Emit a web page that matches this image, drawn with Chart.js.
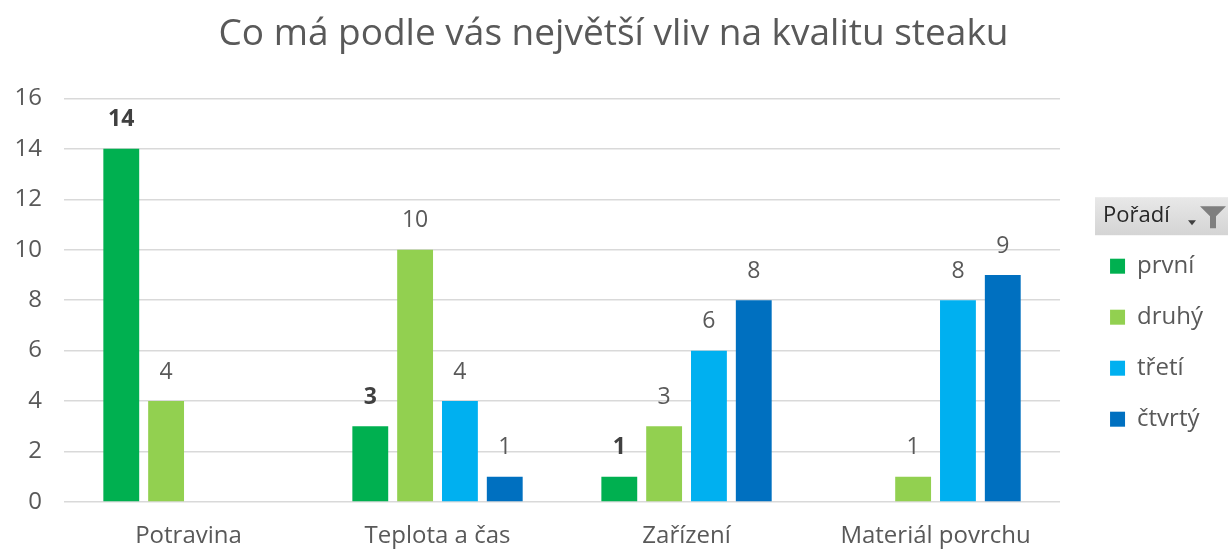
<!DOCTYPE html>
<html>
<head>
<meta charset="utf-8">
<script src="https://cdn.jsdelivr.net/npm/chart.js@4.4.1/dist/chart.umd.min.js"></script>
<style>
html,body{margin:0;padding:0;background:#fff;}
#wrap{position:relative;width:1228px;height:549px;}
canvas{display:block;}
</style>
</head>
<body>
<div id="wrap"><canvas id="c" width="1228" height="549"></canvas></div>
<script>
const categories = ['Potravina', 'Teplota a čas', 'Zařízení', 'Materiál povrchu'];
const seriesNames = ['první', 'druhý', 'třetí', 'čtvrtý'];
const prvni = [14, 3, 1, 0];
const druhy = [4, 10, 3, 1];
const treti = [0, 4, 6, 8];
const ctvrty = [0, 1, 8, 9];
const colors = ['#00B050', '#92D050', '#00B0F0', '#0070C0'];
const yTicks = [0, 2, 4, 6, 8, 10, 12, 14, 16];
const titleText = 'Co má podle vás největší vliv na kvalitu steaku';
const legendTitle = 'Pořadí';

const FONT = '"Open Sans", "Noto Sans", sans-serif';
const TXT = '#595959';

const valueLabels = {
  id: 'valueLabels',
  afterDatasetsDraw(chart) {
    const ctx = chart.ctx;
    ctx.save();
    ctx.textAlign = 'center';
    ctx.textBaseline = 'middle';
    chart.data.datasets.forEach((ds, i) => {
      const meta = chart.getDatasetMeta(i);
      meta.data.forEach((bar, j) => {
        const v = ds.data[j];
        if (!v) return;
        ctx.font = (i === 0 ? 'bold ' : '') + '23px ' + FONT;
        ctx.fillStyle = i === 0 ? '#404040' : TXT;
        ctx.fillText(String(v), bar.x, bar.y - 29);
      });
    });
    ctx.restore();
  }
};

const legendHeader = {
  id: 'legendHeader',
  beforeDraw(chart) {
    const lg = chart.legend;
    if (!lg || !lg.legendHitBoxes || !lg.legendHitBoxes.length) return;
    const first = lg.legendHitBoxes[0];
    const ty = first.top + first.height / 2 - 50;
    const ctx = chart.ctx;
    const h = 38, y0 = ty - h / 2;
    const x0 = 1095;
    ctx.save();
    const g = ctx.createLinearGradient(0, y0, 0, y0 + h);
    g.addColorStop(0, '#e8e8e8');
    g.addColorStop(1, '#d4d4d4');
    ctx.fillStyle = g;
    ctx.fillRect(x0, y0, chart.width - x0, h);
    ctx.fillStyle = '#262626';
    ctx.font = '22px ' + FONT;
    ctx.textAlign = 'left';
    ctx.textBaseline = 'middle';
    ctx.fillText(legendTitle, 1103, ty);
    // filter icon
    const fx = 1200, fy = y0 + 9;
    ctx.fillStyle = '#7f7f7f';
    ctx.beginPath();
    ctx.moveTo(fx, fy); ctx.lineTo(fx + 26, fy); ctx.lineTo(fx + 16, fy + 10);
    ctx.lineTo(fx + 16, fy + 22); ctx.lineTo(fx + 10, fy + 22); ctx.lineTo(fx + 10, fy + 10);
    ctx.closePath(); ctx.fill();
    ctx.fillStyle = '#404040';
    ctx.beginPath();
    ctx.moveTo(fx - 12, fy + 14); ctx.lineTo(fx - 4, fy + 14); ctx.lineTo(fx - 8, fy + 19);
    ctx.closePath(); ctx.fill();
    ctx.restore();
  }
};

new Chart(document.getElementById('c'), {
  type: 'bar',
  data: {
    labels: categories,
    datasets: [prvni, druhy, treti, ctvrty].map((d, i) => ({
      label: seriesNames[i],
      data: d,
      backgroundColor: colors[i],
      borderWidth: 0,
      barPercentage: 0.8,
      categoryPercentage: 0.72
    }))
  },
  options: {
    responsive: false,
    animation: false,
    devicePixelRatio: 1,
    layout: { padding: { left: 14, right: 15, top: 0, bottom: 0 } },
    plugins: {
      tooltip: { enabled: false },
      title: {
        display: true,
        text: titleText,
        color: TXT,
        font: { family: FONT, size: 37, weight: 'normal' },
        padding: { top: 12, bottom: 42 }
      },
      legend: {
        position: 'right',
        align: 'center',
        title: {
          display: true,
          text: legendTitle,
          color: 'rgba(0,0,0,0)',
          font: { family: FONT, size: 22 },
          padding: { top: 98, bottom: 12 }
        },
        labels: {
          boxWidth: 15,
          boxHeight: 15,
          padding: 27,
          color: TXT,
          font: { family: FONT, size: 24 }
        }
      }
    },
    scales: {
      x: {
        grid: { display: false, drawTicks: false },
        border: { display: false },
        ticks: { color: TXT, font: { family: FONT, size: 24 }, padding: 20 },
        afterFit(axis) { axis.height = 47; }
      },
      y: {
        min: 0, max: 16,
        afterBuildTicks(axis) { axis.ticks = yTicks.map(v => ({ value: v })); },
        grid: { color: '#d9d9d9', lineWidth: 1.5, drawTicks: false },
        border: { display: false },
        ticks: { color: TXT, font: { family: FONT, size: 24 }, padding: 22 },
        afterFit(axis) { axis.width = 50; }
      },
      gap: {
        position: 'right',
        display: true,
        grid: { display: false },
        border: { display: false },
        ticks: { display: false },
        afterFit(axis) { axis.width = 23; }
      }
    }
  },
  plugins: [legendHeader, valueLabels]
});
</script>
</body>
</html>
